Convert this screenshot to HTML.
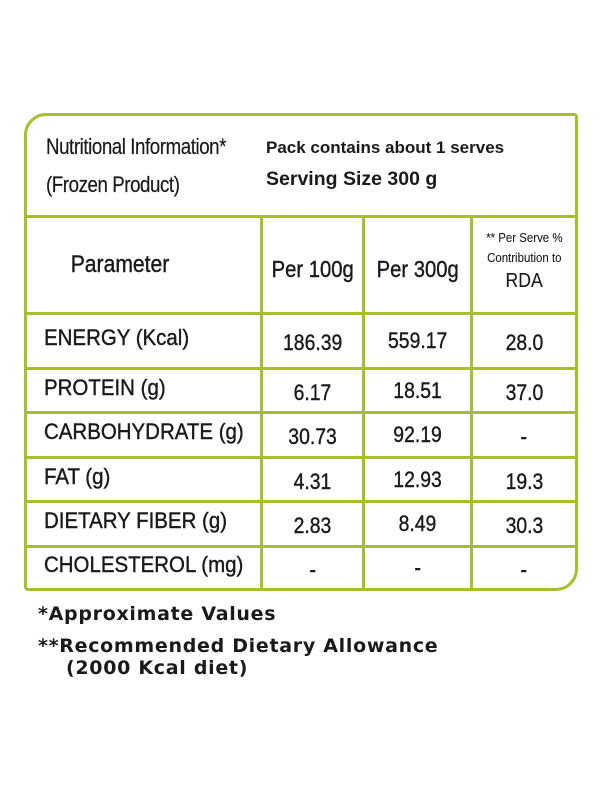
<!DOCTYPE html>
<html><head><meta charset="utf-8"><style>
body{margin:0;width:600px;height:800px;background:#fff;position:relative;overflow:hidden;font-family:"Liberation Sans",sans-serif;color:#1a1a1a}
.box{position:absolute;left:24px;top:113px;width:548px;height:472px;border:3px solid #a6bf2f;border-radius:22px 4px 22px 4px}
.h{position:absolute;height:3px;background:#a6bf2f}
.v{position:absolute;width:3px;background:#a6bf2f}
.t{position:absolute;display:flex;align-items:center;justify-content:center;font-size:22px;-webkit-text-stroke:0.4px #1a1a1a;white-space:nowrap}
.t span{display:inline-block;transform:scaleX(.88)}
.l{justify-content:flex-start;padding-left:19px}
.l span{transform-origin:left center;transform:scaleX(.93)}
.fn{position:absolute;font-family:"DejaVu Sans","Liberation Sans",sans-serif;font-weight:bold;font-size:19px;letter-spacing:0.7px;color:#1a1a1a;white-space:nowrap}
</style></head><body>
<div class="box"></div>
<div class="h" style="left:25px;top:215px;width:550px"></div>
<div class="h" style="left:25px;top:312px;width:550px"></div>
<div class="h" style="left:25px;top:367px;width:550px"></div>
<div class="h" style="left:25px;top:411px;width:550px"></div>
<div class="h" style="left:25px;top:456px;width:550px"></div>
<div class="h" style="left:25px;top:500px;width:550px"></div>
<div class="h" style="left:25px;top:545px;width:550px"></div>
<div class="v" style="left:260px;top:217px;height:371px"></div>
<div class="v" style="left:362px;top:217px;height:371px"></div>
<div class="v" style="left:470px;top:217px;height:371px"></div>

<div class="t l" style="left:27px;top:134px;font-size:22px;-webkit-text-stroke:0.2px #1a1a1a;letter-spacing:-0.5px"><span style="transform:scaleX(.85)">Nutritional Information*</span></div>
<div class="t l" style="left:27px;top:172px;font-size:22px;-webkit-text-stroke:0.2px #1a1a1a;letter-spacing:-0.5px"><span style="transform:scaleX(.85)">(Frozen Product)</span></div>
<div class="t" style="left:266px;top:138px;font-size:17px;font-weight:bold;-webkit-text-stroke:0">Pack contains about 1 serves</div>
<div class="t" style="left:266px;top:168px;font-size:19.5px;font-weight:bold;-webkit-text-stroke:0">Serving Size 300 g</div>

<div class="t" style="left:25px;top:217px;width:190px;height:95px;font-size:24px"><span>Parameter</span></div>
<div class="t" style="left:263px;top:217px;width:99px;height:105px;font-size:23px"><span>Per 100g</span></div>
<div class="t" style="left:365px;top:217px;width:105px;height:105px;font-size:23px"><span>Per 300g</span></div>
<div class="t" style="left:473px;top:228px;width:102px;flex-direction:column;font-size:13px;line-height:20px;-webkit-text-stroke:0.1px #1a1a1a"><span>** Per Serve %</span><span>Contribution to</span><span style="font-size:20px;line-height:26px">RDA</span></div>

<div id="rows"></div>

<div class="fn" style="left:38px;top:603px">*Approximate Values</div>
<div class="fn" style="left:38px;top:635px">**Recommended Dietary Allowance</div>
<div class="fn" style="left:66px;top:657px">(2000 Kcal diet)</div>

<script>
const params=["ENERGY (Kcal)","PROTEIN (g)","CARBOHYDRATE (g)","FAT (g)","DIETARY FIBER (g)","CHOLESTEROL (mg)"];
const per100=["186.39","6.17","30.73","4.31","2.83","-"];
const per300=["559.17","18.51","92.19","12.93","8.49","-"];
const rda=["28.0","37.0","-","19.3","30.3","-"];
const tops=[315,370,414,459,503,548];
const bots=[367,411,456,500,545,588];
const root=document.getElementById('rows');
function cell(x,w,y,h,txt,left,name){
  const d=document.createElement('div');
  d.className='t'+(left?' l':'');
  d.style.left=x+'px';d.style.top=y+'px';d.style.width=w+'px';d.style.height=h+'px';
  const s=document.createElement('span');
  s.textContent=txt;
  d.appendChild(s);
  
  
  root.appendChild(d);
}
params.forEach((p,i)=>{
  const y=tops[i],h=bots[i]-tops[i];
  cell(25,215,y-3,h,p,true,'parameter-label');
  cell(263,99,y+2,h,per100[i],false,'per-100g-value');
  cell(365,105,y,h,per300[i],false,'per-300g-value');
  cell(473,102,y+2,h,rda[i],false,'rda-value');
});
</script>
</body></html>
